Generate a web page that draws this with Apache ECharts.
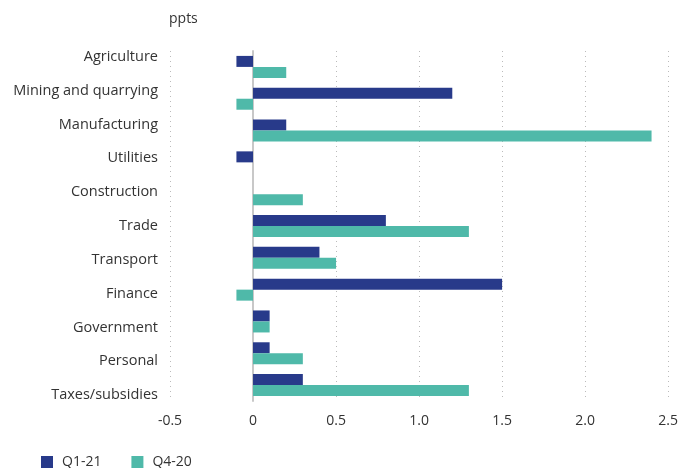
<!DOCTYPE html>
<html><head><meta charset="utf-8">
<script src="https://cdn.jsdelivr.net/npm/echarts@6/dist/echarts.min.js"></script>
<style>html,body{margin:0;padding:0;background:#fff}#c{width:681px;height:468px}</style>
</head><body><div id="c"></div>
<script>
const categories = ["Agriculture","Mining and quarrying","Manufacturing","Utilities","Construction","Trade","Transport","Finance","Government","Personal","Taxes/subsidies"];
const q121 = [-0.1, 1.2, 0.2, -0.1, 0, 0.8, 0.4, 1.5, 0.1, 0.1, 0.3];
const q420 = [0.2, -0.1, 2.4, 0, 0.3, 1.3, 0.5, -0.1, 0.1, 0.3, 1.3];
const seriesNames = ["Q1-21","Q4-20"];
const xTicks = [-0.5, 0, 0.5, 1.0, 1.5, 2.0, 2.5];
const font = "Open Sans";
const txt = '#333';
const chart = echarts.init(document.getElementById('c'), null, {renderer:'canvas'});
chart.setOption({
  animation:false,
  textStyle:{fontFamily:font},
  title:{text:"ppts", left:169, top:12, padding:0, textStyle:{fontSize:14, fontWeight:'normal', color:txt, fontFamily:font}},
  legend:{left:41, top:455, padding:0, itemWidth:12, itemHeight:12, itemGap:30, icon:'rect',
    textStyle:{fontSize:14, color:txt, fontFamily:font, padding:[0,0,0,4]}, data:seriesNames},
  grid:[
    {left:170, right:12, top:51, bottom:67, containLabel:false},
    {left:170, right:12, top:40, bottom:56, containLabel:false}
  ],
  xAxis:[
    {type:'value', gridIndex:0, min:-0.5, max:2.5, interval:0.5,
      axisLine:{show:false}, axisTick:{show:false},
      axisLabel:{color:txt, fontSize:14, margin:13, fontFamily:font,
        formatter:v=>{const t=xTicks.find(x=>Math.abs(x-v)<1e-9); return t===0?'0':(Number.isInteger(t)?t.toFixed(1):String(t));}},
      splitLine:{show:true, lineStyle:{type:[1,4], color:'#bbb', width:1}}},
    {type:'value', gridIndex:1, min:-0.5, max:2.5, show:false}
  ],
  yAxis:[
    {type:'category', gridIndex:0, data:categories, inverse:true,
      axisLine:{show:true, onZero:true, lineStyle:{color:'#c8c8c8', width:2}},
      axisTick:{show:false}, axisLabel:{show:false}},
    {type:'category', gridIndex:1, data:categories, inverse:true,
      axisLine:{show:false}, axisTick:{show:false}, splitLine:{show:false},
      axisLabel:{color:txt, fontSize:14.5, margin:12, fontFamily:font}}
  ],
  series:[
    {name:seriesNames[0], type:'bar', xAxisIndex:0, yAxisIndex:0, data:q121, barWidth:11, barGap:'0%', itemStyle:{color:'#283a8a'}},
    {name:seriesNames[1], type:'bar', xAxisIndex:0, yAxisIndex:0, data:q420, barWidth:11, barGap:'0%', itemStyle:{color:'#4fb9a9'}}
  ]
});
</script></body></html>
